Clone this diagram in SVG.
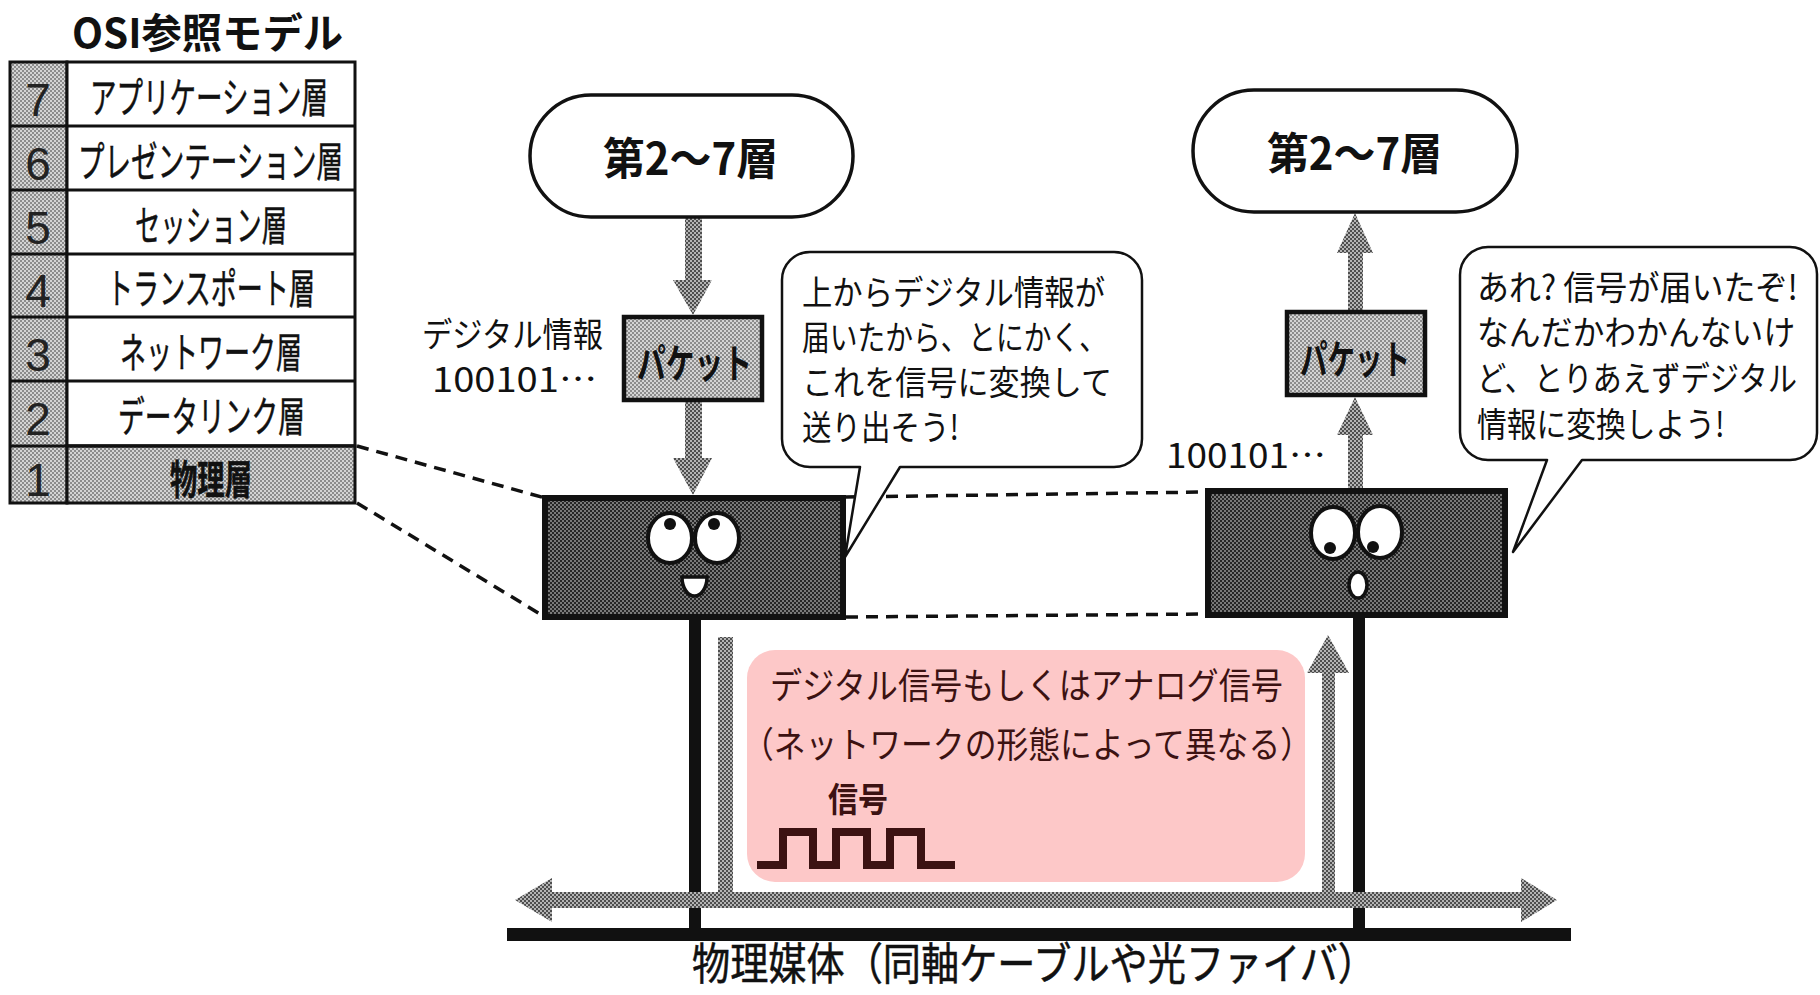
<svg xmlns="http://www.w3.org/2000/svg" width="1820" height="995" viewBox="0 0 1820 995">
  <defs>
    <!-- halftone screens used for the shaded parts -->
    <pattern id="tone-light" width="4" height="4" patternUnits="userSpaceOnUse">
      <rect width="4" height="4" fill="#d4d4d4"/>
      <rect width="2" height="2" fill="#8c8c8c"/>
      <rect x="2" y="2" width="2" height="2" fill="#8c8c8c"/>
    </pattern>
    <pattern id="tone-mid" width="4" height="4" patternUnits="userSpaceOnUse">
      <rect width="4" height="4" fill="#b4b4b4"/>
      <rect width="2" height="2" fill="#4e4e4e"/>
      <rect x="2" y="2" width="2" height="2" fill="#4e4e4e"/>
    </pattern>
    <pattern id="tone-dark" width="4" height="4" patternUnits="userSpaceOnUse">
      <rect width="4" height="4" fill="#7a7a7a"/>
      <rect width="2" height="2" fill="#262626"/>
      <rect x="2" y="2" width="2" height="2" fill="#262626"/>
    </pattern>
    <style>
      .jp { font-family: "Noto Sans CJK JP", "Noto Sans", sans-serif; fill: #111; }
      .b { font-weight: bold; }
      .med { stroke: #111; stroke-width: 0.5; }
      .num { font-family: "Liberation Sans", Arial, sans-serif; font-size: 46px; fill: #222; text-anchor: middle; }
      .cell { fill: #fff; stroke: #111; stroke-width: 3; }
      .shade { fill: url(#tone-light); stroke: #111; stroke-width: 3; }
      .pill { fill: #fff; stroke: #111; stroke-width: 3.5; }
      .packet { fill: url(#tone-light); stroke: #111; stroke-width: 4.5; }
      .device { fill: url(#tone-dark); stroke: #111; stroke-width: 6; }
      .bubble { fill: #fff; stroke: #111; stroke-width: 2.5; stroke-linejoin: round; }
      .flow { fill: url(#tone-mid); }
      .dash { fill: none; stroke: #111; stroke-width: 3.5; stroke-dasharray: 12 8; }
      .pole { fill: none; stroke: #111; stroke-width: 12; }
      .eye { fill: #fff; stroke: #111; stroke-width: 4; }
      .pupil { fill: #111; }
    </style>
  </defs>

  <rect width="1820" height="995" fill="#fff"/>

  <!-- OSI reference model table -->
  <g id="osi-model">
    <text class="jp b" x="72" y="48" font-size="41" textLength="271" lengthAdjust="spacingAndGlyphs">OSI参照モデル</text>
    <rect class="shade" x="10" y="62" width="57" height="441"/>
    <rect class="cell" x="67" y="62" width="288" height="384"/>
    <rect class="shade" x="67" y="446" width="288" height="57"/>
    <g stroke="#111" stroke-width="3">
      <line x1="10" y1="126" x2="355" y2="126"/>
      <line x1="10" y1="190" x2="355" y2="190"/>
      <line x1="10" y1="254" x2="355" y2="254"/>
      <line x1="10" y1="317" x2="355" y2="317"/>
      <line x1="10" y1="381" x2="355" y2="381"/>
      <line x1="10" y1="446" x2="355" y2="446"/>
    </g>
    <text class="num" x="38" y="116">7</text>
    <text class="num" x="38" y="180">6</text>
    <text class="num" x="38" y="244">5</text>
    <text class="num" x="38" y="307">4</text>
    <text class="num" x="38" y="371">3</text>
    <text class="num" x="38" y="435">2</text>
    <text class="num" x="38" y="496">1</text>
    <g class="jp med" font-size="42">
      <text x="90" y="113" textLength="238" lengthAdjust="spacingAndGlyphs">アプリケーション層</text>
      <text x="78" y="177" textLength="265" lengthAdjust="spacingAndGlyphs">プレゼンテーション層</text>
      <text x="135" y="241" textLength="152" lengthAdjust="spacingAndGlyphs">セッション層</text>
      <text x="107" y="304" textLength="208" lengthAdjust="spacingAndGlyphs">トランスポート層</text>
      <text x="120" y="368" textLength="182" lengthAdjust="spacingAndGlyphs">ネットワーク層</text>
      <text x="118" y="432" textLength="187" lengthAdjust="spacingAndGlyphs">データリンク層</text>
      <text class="b" x="170" y="494" font-size="40" textLength="82" lengthAdjust="spacingAndGlyphs">物理層</text>
    </g>
  </g>

  <!-- connectors: layer links, media, signal flow -->
  <g id="connectors">
    <path class="dash" d="M357,446 L545,498"/>
    <path class="dash" d="M357,503 L545,617"/>
    <path class="dash" d="M846,497 L1206,492"/>
    <path class="dash" d="M846,617 L1206,614"/>

    <path class="flow" d="M685,217 H702 V280 H712 L693,315 L673,280 H685 Z"/>
    <path class="flow" d="M685,400 H702 V458 H712 L693,495 L673,458 H685 Z"/>
    <path class="flow" d="M1348,312 H1363 V253 H1373 L1355,213 L1337,253 H1348 Z"/>
    <path class="flow" d="M1348,490 H1363 V435 H1373 L1355,397 L1337,435 H1348 Z"/>

    <line class="pole" x1="695" y1="617" x2="695" y2="934"/>
    <line class="pole" x1="1359" y1="614" x2="1359" y2="934"/>
    <rect x="507" y="928" width="1064" height="13" fill="#111"/>

    <path class="flow" d="M515,900 L552,878 V892 H718 V637 H733 V892 H1322 V673 H1307 L1328,635 L1349,673 H1335 V892 H1521 V878 L1557,900 L1521,922 V908 H552 V922 Z"/>
  </g>

  <!-- sending side -->
  <g id="upper-layers-send">
    <rect class="pill" x="530" y="95" width="323" height="122" rx="61"/>
    <text class="jp b" x="603" y="175" font-size="44" textLength="175" lengthAdjust="spacingAndGlyphs">第2～7層</text>
  </g>
  <g id="packet-send">
    <rect class="packet" x="624" y="317" width="138" height="83"/>
    <text class="jp b" x="637" y="378" font-size="40" textLength="115" lengthAdjust="spacingAndGlyphs">パケット</text>
  </g>
  <g id="digital-label">
    <text class="jp" x="422" y="347" font-size="34" textLength="181" lengthAdjust="spacingAndGlyphs">デジタル情報</text>
    <text class="jp" x="432" y="392" font-size="34" textLength="165" lengthAdjust="spacingAndGlyphs">100101…</text>
  </g>
  <g id="device-send">
    <rect class="device" x="545" y="498" width="298" height="119"/>
    <ellipse class="eye" cx="670" cy="538" rx="22" ry="25"/>
    <ellipse class="eye" cx="717" cy="538" rx="22" ry="25"/>
    <circle class="pupil" cx="670" cy="524" r="6"/>
    <circle class="pupil" cx="714" cy="524" r="6"/>
    <path d="M682,577 H707 A12.5,19 0 0 1 682,577 Z" fill="#fff" stroke="#111" stroke-width="3.5"/>
  </g>
  <g id="bubble-send">
    <path class="bubble" d="M810,252 H1114 A28,28 0 0 1 1142,280 V439 A28,28 0 0 1 1114,467 H900 L845,557 L860,467 H810 A28,28 0 0 1 782,439 V280 A28,28 0 0 1 810,252 Z"/>
    <g class="jp" font-size="34">
      <text x="802" y="305" textLength="303" lengthAdjust="spacingAndGlyphs">上からデジタル情報が</text>
      <text x="802" y="350" textLength="305" lengthAdjust="spacingAndGlyphs">届いたから、とにかく、</text>
      <text x="802" y="395" textLength="310" lengthAdjust="spacingAndGlyphs">これを信号に変換して</text>
      <text x="802" y="440" textLength="157" lengthAdjust="spacingAndGlyphs">送り出そう!</text>
    </g>
  </g>

  <!-- receiving side -->
  <g id="upper-layers-recv">
    <rect class="pill" x="1193" y="90" width="324" height="122" rx="61"/>
    <text class="jp b" x="1267" y="170" font-size="44" textLength="175" lengthAdjust="spacingAndGlyphs">第2～7層</text>
  </g>
  <g id="packet-recv">
    <rect class="packet" x="1287" y="312" width="138" height="83"/>
    <text class="jp b" x="1300" y="374" font-size="40" textLength="110" lengthAdjust="spacingAndGlyphs">パケット</text>
  </g>
  <g id="bits-label">
    <text class="jp" x="1166" y="468" font-size="34" textLength="160" lengthAdjust="spacingAndGlyphs">100101…</text>
  </g>
  <g id="device-recv">
    <rect class="device" x="1208" y="491" width="297" height="124"/>
    <ellipse class="eye" cx="1333" cy="533" rx="22" ry="26"/>
    <ellipse class="eye" cx="1380" cy="532" rx="22" ry="26"/>
    <circle class="pupil" cx="1330" cy="548" r="6"/>
    <circle class="pupil" cx="1373" cy="547" r="6"/>
    <ellipse cx="1358" cy="585" rx="9" ry="13" fill="#fff" stroke="#111" stroke-width="3.5"/>
  </g>
  <g id="bubble-recv">
    <path class="bubble" d="M1488,247 H1790 A27,27 0 0 1 1817,274 V433 A27,27 0 0 1 1790,460 H1582 L1513,552 L1547,460 H1488 A28,28 0 0 1 1460,432 V275 A28,28 0 0 1 1488,247 Z"/>
    <g class="jp" font-size="34" transform="translate(1477,0) scale(0.86,1)">
      <text x="0" y="300" textLength="373" lengthAdjust="spacingAndGlyphs">あれ? 信号が届いたぞ!</text>
      <text x="0" y="345" textLength="370" lengthAdjust="spacingAndGlyphs">なんだかわかんないけ</text>
      <text x="0" y="391" textLength="372" lengthAdjust="spacingAndGlyphs">ど、とりあえずデジタル</text>
      <text x="0" y="437" textLength="288" lengthAdjust="spacingAndGlyphs">情報に変換しよう!</text>
    </g>
  </g>

  <!-- signal on the medium -->
  <g id="signal-note">
    <rect x="747" y="650" width="558" height="232" rx="28" fill="#fdc8c8"/>
    <g class="jp" font-size="36" style="fill:#3c1212">
      <text x="770" y="699" textLength="513" lengthAdjust="spacingAndGlyphs">デジタル信号もしくはアナログ信号</text>
      <text x="742" y="758" textLength="570" lengthAdjust="spacingAndGlyphs">（ネットワークの形態によって異なる）</text>
      <text class="b" x="828" y="812" font-size="34" textLength="60" lengthAdjust="spacingAndGlyphs" style="fill:#3c1212">信号</text>
    </g>
    <path d="M757,865 H783 V832 H813 V865 H836 V832 H867 V865 H890 V832 H921 V865 H955" fill="none" stroke="#3c1212" stroke-width="8"/>
  </g>

  <g id="medium-label">
    <text class="jp med" x="692" y="980" font-size="44" textLength="684" lengthAdjust="spacingAndGlyphs" stroke-width="0.8">物理媒体（同軸ケーブルや光ファイバ）</text>
  </g>
</svg>
